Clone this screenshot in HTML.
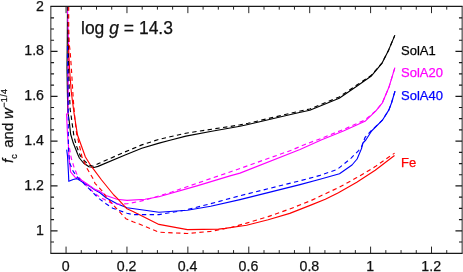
<!DOCTYPE html>
<html><head><meta charset="utf-8"><title>chart</title>
<style>
html,body{margin:0;padding:0;background:#fff;}
body{width:463px;height:272px;overflow:hidden;position:relative;font-family:"Liberation Sans",sans-serif;}
svg{will-change:transform;}
</style></head><body>
<svg width="463" height="272" viewBox="0 0 463 272" style="position:absolute;left:0;top:0">
<defs><clipPath id="c"><rect x="50.85" y="6.45" width="411.30" height="246.85"/></clipPath></defs>
<g clip-path="url(#c)" fill="none" stroke-linejoin="round">
<path d="M67.50,6.40 L67.30,40.00 L67.00,68.00 L67.40,92.00 L67.80,112.00 L69.10,120.00 L70.60,134.00 L73.20,142.80 L77.70,154.30 L79.40,158.00 L83.50,163.00 L89.00,166.80 L94.00,167.50 L98.00,166.40 L124.50,155.20 L141.80,148.30 L159.10,143.10 L170.00,140.20 L185.90,136.10 L211.80,131.20 L240.00,126.20 L248.00,124.50 L296.00,113.20 L309.80,110.30 L339.20,98.20 L356.40,86.50 L371.00,76.30 L382.10,63.10 L388.70,49.90 L394.80,35.40" stroke="#000" stroke-width="1.15"/>
<path d="M66.70,149.60 L67.50,156.00 L68.40,172.00 L68.80,181.30 L73.20,179.50 L76.80,178.60 L82.00,181.70 L90.90,187.00 L95.00,190.00 L100.00,192.70 L106.00,197.70 L117.00,203.70 L127.00,207.70 L145.00,210.20 L158.90,212.20 L187.40,210.20 L210.70,206.30 L240.00,199.60 L300.00,184.60 L320.00,179.30 L339.50,173.80 L352.00,165.00 L357.10,159.00 L361.50,148.60 L362.90,143.00 L365.80,140.00 L371.60,131.00 L382.40,120.20 L388.90,109.90 L391.50,103.00 L395.00,91.20" stroke="#00f" stroke-width="1.15"/>
<path d="M67.40,6.40 L68.06,28.00 L68.70,47.00 L68.20,70.00 L68.20,92.00 L68.00,113.50 L66.50,114.00 L67.50,134.00 L68.80,150.00 L68.80,156.00 L70.60,171.90 L75.00,177.20 L77.70,177.70 L81.20,180.00 L86.50,183.50 L95.00,189.40 L100.00,191.40 L106.00,195.50 L117.00,199.30 L127.00,200.40 L145.00,199.20 L158.90,196.70 L197.80,185.60 L230.00,175.90 L240.00,173.10 L300.00,149.50 L321.70,139.70 L343.40,131.00 L365.00,121.30 L375.90,110.90 L382.40,102.80 L388.90,87.30 L394.90,67.60" stroke="#f0f" stroke-width="1.15"/>
<path d="M68.30,44.00 L69.60,70.00 L71.30,92.00 L74.00,113.00 L77.50,135.00 L85.40,157.00 L90.90,165.70 L101.60,180.00 L113.80,195.00 L117.10,198.20 L127.00,208.80 L133.00,211.50 L145.00,217.60 L158.90,224.40 L187.40,229.60 L218.50,229.10 L225.00,228.40 L246.60,225.20 L268.20,219.80 L289.80,213.40 L311.40,204.90 L325.30,199.30 L338.40,192.70 L356.80,182.20 L375.20,170.20 L394.50,155.50" stroke="#f00" stroke-width="1.15"/>
<path d="M67.80,6.40 L68.20,50.00 L69.20,88.00 L70.20,110.00 L70.60,112.00 L73.90,136.00 L76.30,145.50 L80.20,155.60 L84.80,161.30 L89.50,165.20 L93.50,166.30 L98.60,163.50 L124.50,152.10 L141.80,144.90 L159.10,139.30 L170.00,136.80 L185.90,133.20 L211.80,129.20 L240.00,124.90 L248.00,123.30 L296.00,112.00 L309.80,109.00 L339.20,97.00 L356.40,85.30 L371.00,75.60 L382.10,62.90 L388.70,49.90 L394.80,35.40" stroke="#000" stroke-width="1.15" stroke-dasharray="4.4 3.4"/>
<path d="M69.50,148.00 L71.20,158.00 L74.10,167.50 L77.20,175.00 L82.00,181.00 L87.40,186.60 L93.50,192.30 L98.00,195.80 L106.00,200.40 L111.50,203.20 L119.00,204.20 L127.00,203.80 L139.00,201.50 L146.00,199.80 L171.80,192.00 L197.80,183.00 L230.00,172.00 L240.00,168.50 L292.00,150.00 L304.30,144.70 L321.70,138.20 L343.40,129.50 L365.00,120.00 L375.90,110.70 L382.40,102.80 L388.90,87.30 L394.90,67.60" stroke="#f0f" stroke-width="1.15" stroke-dasharray="4.4 3.4"/>
<path d="M67.50,46.00 L67.80,80.00 L68.20,100.00 L68.40,148.00 L69.70,163.00 L73.20,171.40 L77.70,177.30 L83.00,182.60 L90.00,189.70 L95.30,195.00 L99.40,198.90 L106.00,203.70 L112.70,208.20 L127.00,213.20 L133.00,214.60 L158.90,214.60 L184.80,210.20 L210.70,203.70 L240.00,195.70 L300.00,180.80 L320.00,175.40 L337.30,169.40 L351.10,158.10 L358.60,150.60 L361.50,146.90 L365.00,137.50 L371.00,131.00 L382.40,120.20 L388.90,109.90 L391.50,103.00 L395.00,91.20" stroke="#00f" stroke-width="1.15" stroke-dasharray="4.4 3.4"/>
<path d="M68.70,6.40 L68.70,28.00 L69.30,45.00 L70.00,50.00 L71.30,67.00 L72.70,90.00 L73.30,100.00 L75.00,120.00 L76.80,135.00 L78.00,139.30 L82.00,157.00 L86.50,167.50 L92.70,178.00 L95.00,183.30 L101.80,190.70 L106.00,196.60 L117.00,209.20 L125.90,218.70 L133.00,221.80 L139.20,224.00 L158.90,232.20 L187.40,233.50 L210.70,231.40 L231.50,227.30 L246.60,223.10 L268.20,216.60 L289.80,209.00 L311.40,200.40 L322.00,195.30 L338.40,187.70 L356.80,177.60 L375.20,166.60 L394.60,153.10" stroke="#f00" stroke-width="1.15" stroke-dasharray="4.4 3.4"/>
</g>
<g stroke="#1a1a1a" fill="none">
<path stroke-width="1.20" d="M50.38,6.45 H462.62 M50.38,253.30 H462.62 M50.85,242.01 h3.20 M462.15,242.01 h-3.20 M50.85,230.80 h6.70 M462.15,230.80 h-6.70 M50.85,219.59 h3.20 M462.15,219.59 h-3.20 M50.85,208.38 h3.20 M462.15,208.38 h-3.20 M50.85,197.17 h3.20 M462.15,197.17 h-3.20 M50.85,185.96 h6.70 M462.15,185.96 h-6.70 M50.85,174.75 h3.20 M462.15,174.75 h-3.20 M50.85,163.54 h3.20 M462.15,163.54 h-3.20 M50.85,152.33 h3.20 M462.15,152.33 h-3.20 M50.85,141.12 h6.70 M462.15,141.12 h-6.70 M50.85,129.91 h3.20 M462.15,129.91 h-3.20 M50.85,118.70 h3.20 M462.15,118.70 h-3.20 M50.85,107.49 h3.20 M462.15,107.49 h-3.20 M50.85,96.28 h6.70 M462.15,96.28 h-6.70 M50.85,85.07 h3.20 M462.15,85.07 h-3.20 M50.85,73.86 h3.20 M462.15,73.86 h-3.20 M50.85,62.65 h3.20 M462.15,62.65 h-3.20 M50.85,51.44 h6.70 M462.15,51.44 h-6.70 M50.85,40.23 h3.20 M462.15,40.23 h-3.20 M50.85,29.02 h3.20 M462.15,29.02 h-3.20 M50.85,17.81 h3.20 M462.15,17.81 h-3.20"/>
<path stroke-width="0.95" d="M50.85,6.45 V253.30 M462.15,6.45 V253.30 M66.05,253.30 v-6.70 M66.05,6.45 v6.70 M81.28,253.30 v-3.20 M81.28,6.45 v3.20 M96.50,253.30 v-3.20 M96.50,6.45 v3.20 M111.73,253.30 v-3.20 M111.73,6.45 v3.20 M126.96,253.30 v-6.70 M126.96,6.45 v6.70 M142.19,253.30 v-3.20 M142.19,6.45 v3.20 M157.42,253.30 v-3.20 M157.42,6.45 v3.20 M172.64,253.30 v-3.20 M172.64,6.45 v3.20 M187.87,253.30 v-6.70 M187.87,6.45 v6.70 M203.10,253.30 v-3.20 M203.10,6.45 v3.20 M218.32,253.30 v-3.20 M218.32,6.45 v3.20 M233.55,253.30 v-3.20 M233.55,6.45 v3.20 M248.78,253.30 v-6.70 M248.78,6.45 v6.70 M264.01,253.30 v-3.20 M264.01,6.45 v3.20 M279.24,253.30 v-3.20 M279.24,6.45 v3.20 M294.46,253.30 v-3.20 M294.46,6.45 v3.20 M309.69,253.30 v-6.70 M309.69,6.45 v6.70 M324.92,253.30 v-3.20 M324.92,6.45 v3.20 M340.15,253.30 v-3.20 M340.15,6.45 v3.20 M355.37,253.30 v-3.20 M355.37,6.45 v3.20 M370.60,253.30 v-6.70 M370.60,6.45 v6.70 M385.83,253.30 v-3.20 M385.83,6.45 v3.20 M401.06,253.30 v-3.20 M401.06,6.45 v3.20 M416.28,253.30 v-3.20 M416.28,6.45 v3.20 M431.51,253.30 v-6.70 M431.51,6.45 v6.70 M446.74,253.30 v-3.20 M446.74,6.45 v3.20"/>
</g>
<g font-family="Liberation Sans, sans-serif" fill="#111" stroke="#111" stroke-width="0.25" stroke-linejoin="round">
<text x="65.75" y="270.6" font-size="14.2" text-anchor="middle">0</text>
<text x="126.66" y="270.6" font-size="14.2" text-anchor="middle">0.2</text>
<text x="187.57" y="270.6" font-size="14.2" text-anchor="middle">0.4</text>
<text x="248.48" y="270.6" font-size="14.2" text-anchor="middle">0.6</text>
<text x="309.39" y="270.6" font-size="14.2" text-anchor="middle">0.8</text>
<text x="370.30" y="270.6" font-size="14.2" text-anchor="middle">1</text>
<text x="431.21" y="270.6" font-size="14.2" text-anchor="middle">1.2</text>
<text x="44.0" y="234.70" font-size="14.2" text-anchor="end">1</text>
<text x="44.0" y="189.86" font-size="14.2" text-anchor="end">1.2</text>
<text x="44.0" y="145.02" font-size="14.2" text-anchor="end">1.4</text>
<text x="44.0" y="100.18" font-size="14.2" text-anchor="end">1.6</text>
<text x="44.0" y="55.34" font-size="14.2" text-anchor="end">1.8</text>
<text x="44.0" y="10.50" font-size="14.2" text-anchor="end">2</text>
<text x="81" y="33.7" font-size="17.5">log <tspan font-style="italic">g</tspan> = 14.3</text>
<text x="401" y="54.8" font-size="13" fill="#000" stroke="#000">SolA1</text>
<text x="401" y="77.0" font-size="13" fill="#f0f" stroke="#f0f">SolA20</text>
<text x="401" y="99.6" font-size="13" fill="#00f" stroke="#00f">SolA40</text>
<text x="401" y="166.7" font-size="13" fill="#f00" stroke="#f00">Fe</text>
<text transform="translate(12.8,163) rotate(-90)" font-size="15"><tspan font-style="italic">f</tspan><tspan font-size="9" dy="4.3">c</tspan><tspan dy="-4.3" dx="2.4"> and </tspan><tspan font-style="italic" dx="-0.5">w</tspan><tspan font-size="9" dy="-5.9" dx="0.5" letter-spacing="0.3">−1/4</tspan></text>
</g>
</svg>
</body></html>
